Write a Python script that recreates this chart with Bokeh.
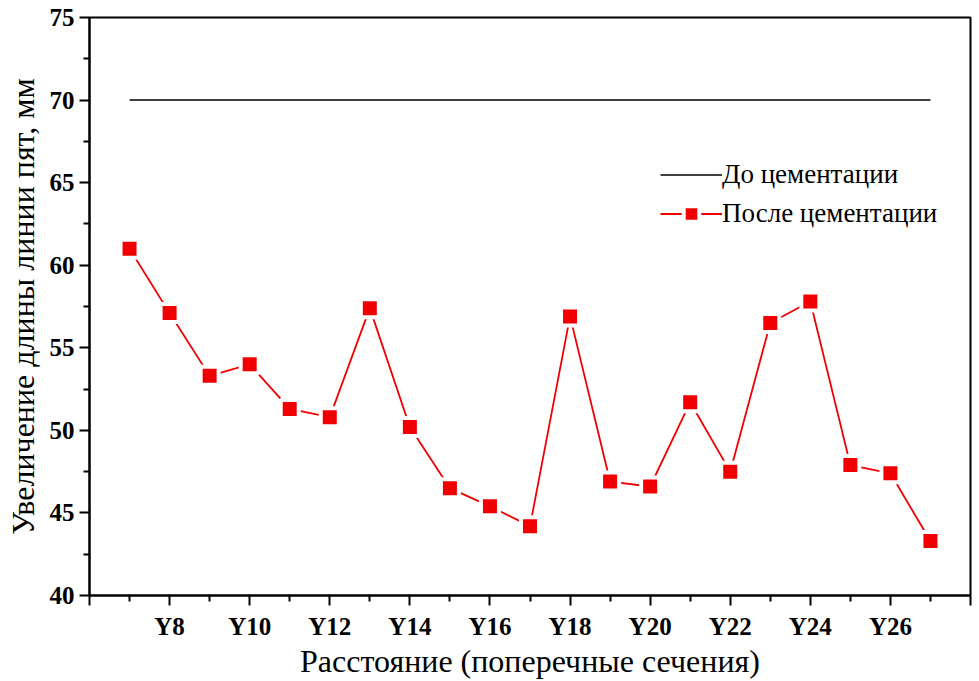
from bokeh.plotting import figure
from bokeh.models import FixedTicker, Legend, LegendItem, Range1d
from bokeh.embed import file_html
from bokeh.resources import INLINE

categories = ["Y%d" % i for i in range(7, 28)]
before = [70.0] * 21
after = [61.0, 57.1, 53.3, 54.0, 51.3, 50.8, 57.4, 50.2, 46.5, 45.4, 44.2,
         56.9, 46.9, 46.6, 51.7, 47.5, 56.5, 57.8, 47.9, 47.4, 43.3]
tick_labels = ["Y8", "Y10", "Y12", "Y14", "Y16", "Y18", "Y20", "Y22", "Y24", "Y26"]
legend_labels = ["До цементации", "После цементации"]
x_title = "Расстояние (поперечные сечения)"
y_title = "Увеличение длины линии пят, мм"

xs = [int(c[1:]) for c in categories]
FONT = "Liberation Serif"
RED = "#f00000"

p = figure(width=979, height=681, output_backend="svg", toolbar_location=None,
           x_range=Range1d(6, 28), y_range=Range1d(40, 75),
           min_border_left=89, min_border_right=9, min_border_top=17, min_border_bottom=84)
p.xgrid.visible = False
p.ygrid.visible = False
p.outline_line_color = "black"
p.outline_line_width = 2

major_x = [int(t[1:]) for t in tick_labels]
p.xaxis.ticker = FixedTicker(ticks=[6] + major_x + [28], minor_ticks=[x for x in xs if x % 2 == 1])
overrides = {6: "", 28: ""}
overrides.update({int(t[1:]): t for t in tick_labels})
p.xaxis.major_label_overrides = overrides
p.yaxis.ticker = FixedTicker(ticks=[40, 45, 50, 55, 60, 65, 70, 75],
                             minor_ticks=[42.5, 47.5, 52.5, 57.5, 62.5, 67.5, 72.5])

for ax in (p.xaxis, p.yaxis):
    ax.axis_line_width = 2
    ax.major_tick_line_width = 2
    ax.minor_tick_line_width = 2
    ax.major_tick_in = 0
    ax.major_tick_out = 10
    ax.minor_tick_in = 0
    ax.minor_tick_out = 6
    ax.major_label_text_font = FONT
    ax.major_label_text_font_style = "bold"
    ax.major_label_text_font_size = "25px"
    ax.major_label_text_color = "black"
    ax.axis_label_text_font = FONT
    ax.axis_label_text_font_style = "normal"
    ax.axis_label_text_font_size = "32px"
    ax.axis_label_text_color = "black"

p.xaxis.axis_label = x_title
p.yaxis.axis_label = y_title
p.xaxis.major_label_standoff = 7
p.yaxis.major_label_standoff = 5
p.xaxis.axis_label_standoff = 0
p.yaxis.axis_label_standoff = 6

r1 = p.line(xs, before, line_color="black", line_width=1.6)
r2 = p.line(xs, after, line_color=RED, line_width=1.8)
r3 = p.scatter(xs, after, marker="square", size=18, fill_color=RED,
               line_color="white", line_width=4)

legend = Legend(items=[LegendItem(label=legend_labels[0], renderers=[r1]),
                       LegendItem(label=legend_labels[1], renderers=[r2, r3])],
                location=(571, 362), border_line_color=None, background_fill_alpha=0,
                padding=0, margin=0, spacing=0, glyph_width=62, glyph_height=39,
                label_height=39, label_standoff=0,
                label_text_font=FONT, label_text_font_size="27px", label_text_color="black")
p.add_layout(legend)

open("out.html", "w").write(file_html(p, INLINE))
